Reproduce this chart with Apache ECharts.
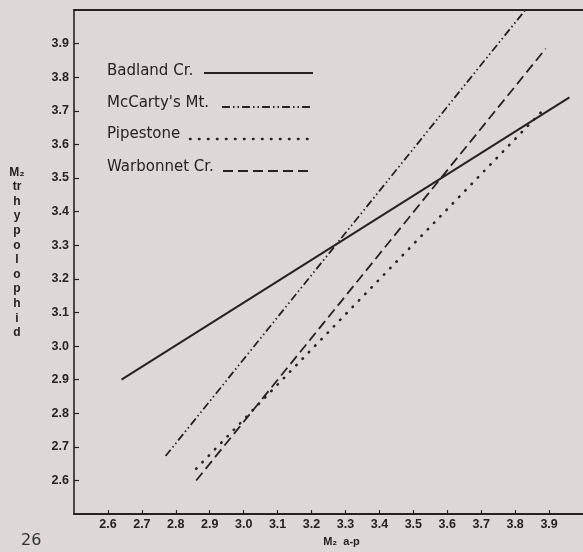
<!DOCTYPE html>
<html>
<head>
<meta charset="utf-8">
<script src="https://cdn.jsdelivr.net/npm/echarts@6/dist/echarts.min.js"></script>
<style>
  html, body { margin: 0; padding: 0; background: #ded7d7; }
  #main { width: 583px; height: 552px; }
</style>
</head>
<body>
<div id="main"></div>
<script>
// regression lines, M2 a-p (x) vs M2 trhypolophid (y)
var seriesNames = ['Badland Cr.', "McCarty's Mt.", 'Pipestone', 'Warbonnet Cr.']
var badland = [[2.64, 2.90], [3.96, 3.74]]
var mccarty = [[2.77, 2.673], [3.83, 4.00]]
var pipestone = [[2.86, 2.635], [3.89, 3.71]]
var warbonnet = [[2.86, 2.60], [3.89, 3.885]]

var xTicks = [2.6, 2.7, 2.8, 2.9, 3.0, 3.1, 3.2, 3.3, 3.4, 3.5, 3.6, 3.7, 3.8, 3.9]
var yTicks = [2.6, 2.7, 2.8, 2.9, 3.0, 3.1, 3.2, 3.3, 3.4, 3.5, 3.6, 3.7, 3.8, 3.9]

var ink = '#262222'
var labelFont = { color: ink, fontFamily: 'Liberation Sans', fontWeight: 'bold', fontSize: 12.5 }

// line style of each series (also used for the key)
var styles = [
  { type: 'solid', width: 2, cap: 'butt' },
  { type: [8, 3, 1.5, 3, 1.5, 3], width: 1.8, cap: 'butt' },
  { type: [0.5, 8.5], width: 2.6, cap: 'round' },
  { type: [10, 5], width: 1.8, cap: 'butt' }
]
var dataList = [badland, mccarty, pipestone, warbonnet]

var chart = echarts.init(document.getElementById('main'))

// key in upper-left corner: name, then a sample of the line
var keyRows = [
  { y: 71, lineY: 73, x1: 204 },
  { y: 103, lineY: 107, x1: 222 },
  { y: 134, lineY: 139, x1: 190 },
  { y: 167, lineY: 171, x1: 223 }
]
var graphics = []
seriesNames.forEach(function (name, i) {
  graphics.push({
    type: 'text', x: 107, y: keyRows[i].y,
    style: { text: name, fill: ink, fontFamily: 'DejaVu Sans', fontSize: 15, verticalAlign: 'middle' }
  })
  graphics.push({
    type: 'line',
    shape: { x1: keyRows[i].x1, y1: keyRows[i].lineY, x2: 313, y2: keyRows[i].lineY },
    style: { stroke: ink, lineWidth: styles[i].width, lineDash: styles[i].type === 'solid' ? null : styles[i].type, lineCap: styles[i].cap }
  })
})
// vertical axis title, one letter group per row
graphics.push({
  type: 'text', x: 17, y: 165,
  style: {
    text: 'M₂\ntr\nh\ny\np\no\nl\no\np\nh\ni\nd', fill: ink, align: 'center',
    fontFamily: 'Liberation Sans', fontWeight: 'bold', fontSize: 12, lineHeight: 14.6
  }
})
// page number
graphics.push({
  type: 'text', x: 21, y: 533,
  style: { text: '26', fill: '#333', fontFamily: 'DejaVu Sans', fontSize: 16 }
})

chart.setOption({
  backgroundColor: '#ded7d7',
  animation: false,
  grid: { left: 74, right: 0, top: 10, bottom: 28 },
  xAxis: [{
    type: 'value', min: 2.5, max: 4.0, interval: 0.1,
    name: 'M₂  a-p', nameLocation: 'middle', nameGap: 18,
    nameTextStyle: { color: ink, fontFamily: 'Liberation Sans', fontWeight: 'bold', fontSize: 11, padding: [0, 0, 0, 26] },
    splitLine: { show: false },
    axisLine: { lineStyle: { color: ink, width: 2 } },
    axisTick: { inside: true, length: 4, customValues: xTicks, lineStyle: { color: ink, width: 1.2 } },
    axisLabel: Object.assign({ margin: 4, customValues: xTicks, formatter: function (v) { return v.toFixed(1) } }, labelFont)
  }, {
    // top frame line only
    type: 'value', position: 'top', min: 2.5, max: 4.0,
    splitLine: { show: false },
    axisLine: { lineStyle: { color: ink, width: 2 } },
    axisTick: { show: false },
    axisLabel: { show: false }
  }],
  yAxis: {
    type: 'value', min: 2.5, max: 4.0, interval: 0.1,
    splitLine: { show: false },
    axisLine: { show: true, lineStyle: { color: ink, width: 1.6 } },
    axisTick: { show: true, inside: true, length: 5, customValues: yTicks, lineStyle: { color: ink, width: 1.2 } },
    axisLabel: Object.assign({ margin: 5, customValues: yTicks, formatter: function (v) { return v.toFixed(1) } }, labelFont)
  },
  series: seriesNames.map(function (name, i) {
    return {
      name: name,
      type: 'line',
      data: dataList[i],
      showSymbol: false,
      clip: true,
      lineStyle: { color: ink, width: styles[i].width, type: styles[i].type, cap: styles[i].cap }
    }
  }),
  graphic: graphics
})
</script>
</body>
</html>
